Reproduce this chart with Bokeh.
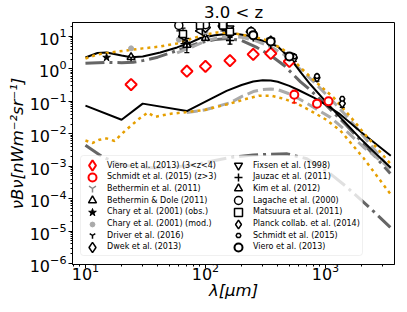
from math import pi
from bokeh.plotting import figure
from bokeh.models import Range1d, FixedTicker, Legend, LegendItem, BoxAnnotation
from bokeh.embed import file_html
from bokeh.resources import INLINE

# ---------------- data ----------------
# model A (black solid): all z and z>3
lam_a_tot = [10, 12.6, 15, 20, 24, 30, 42, 58, 75, 91, 120, 150, 180, 220, 270, 330, 400, 510, 620, 750, 1000, 1400, 2000, 2700, 3500]
v_a_tot = [2.25, 3.1, 3.2, 2.6, 2.3, 2.4, 3.2, 4.6, 6.5, 9.0, 11.0, 12.0, 12.2, 10.8, 8.4, 6.6, 4.9, 2.1, 0.8, 0.33, 0.1, 0.026, 0.0065, 0.0022, 0.0009]
lam_a_hz = [10, 20, 30, 70, 100, 150, 200, 250, 300, 350, 400, 500, 600, 800, 1000, 1300, 2000, 2700, 3500]
v_a_hz = [0.074, 0.027, 0.085, 0.05, 0.098, 0.21, 0.32, 0.41, 0.45, 0.44, 0.40, 0.30, 0.22, 0.13, 0.08, 0.042, 0.011, 0.0045, 0.0021]
# model B (light grey dashed)
lam_b_tot = [58, 80, 100, 130, 160, 200, 260, 350, 450, 620, 800, 1100, 1500, 2070, 3470]
v_b_tot = [3.1, 5.0, 7.3, 9.3, 10.0, 9.5, 7.5, 4.8, 2.8, 0.95, 0.4, 0.12, 0.035, 0.0085, 0.0008]
lam_b_hz = [70, 100, 125, 160, 200, 250, 300, 350, 400, 500, 600, 800, 1100, 1500, 2070, 3470]
v_b_hz = [0.045, 0.055, 0.07, 0.09, 0.14, 0.2, 0.23, 0.24, 0.23, 0.17, 0.12, 0.065, 0.032, 0.012, 0.0039, 0.00085]
# model C (orange dotted)
lam_c_tot = [10, 12.6, 16, 22, 30, 42, 58, 80, 100, 125, 170, 250, 330, 450, 620, 800, 1170, 1600, 2070, 3470]
v_c_tot = [2.1, 2.8, 3.2, 3.7, 4.3, 4.9, 6.1, 9.0, 11.5, 13.3, 12.5, 10.0, 7.5, 3.8, 1.1, 0.45, 0.13, 0.035, 0.011, 0.0012]
lam_c_hz = [10, 11.5, 13, 15, 17.5, 21.5, 28, 33, 38, 45, 53, 68, 100, 160, 220, 280, 350, 450, 600, 800, 1000, 1330, 2070, 3470]
v_c_hz = [0.0062, 0.0052, 0.0065, 0.0072, 0.006, 0.0126, 0.029, 0.045, 0.033, 0.038, 0.042, 0.046, 0.055, 0.085, 0.12, 0.15, 0.15, 0.12, 0.08, 0.045, 0.028, 0.0126, 0.0018, 0.00014]
# model D (dark grey dash-dot)
lam_d_tot = [10, 15, 20, 25, 30, 40, 58, 91, 120, 153, 200, 270, 350, 450, 620, 750, 1000, 1500, 2070, 3470]
v_d_tot = [1.5, 1.6, 1.55, 1.6, 1.8, 2.3, 3.7, 6.5, 8.0, 8.7, 7.5, 4.5, 2.6, 1.3, 0.4, 0.22, 0.08, 0.018, 0.005, 0.0006]
lam_d_hz = [10, 14, 20, 30, 50, 80, 120, 168, 250, 350, 480, 700, 1100, 1500, 2370, 3470]
v_d_hz = [0.0044, 0.0019, 0.0011, 0.0009, 0.0009, 0.0011, 0.0015, 0.0019, 0.0022, 0.00235, 0.0024, 0.0017, 0.00058, 0.00023, 0.00005, 0.000013]

# observations
viero34_lam = [24, 70, 100, 160, 250, 350, 500]
viero34_val = [0.33, 0.85, 1.2, 1.8, 2.8, 3.0, 1.7]
schmidt3_lam = [550, 850, 1060]
schmidt3_val = [0.16, 0.085, 0.1]
schmidt3_lo = [0.09, 0.07, 0.08]
schmidt3_hi = [0.22, 0.1, 0.12]
beth11_lam = [70, 100, 160, 250, 350, 500]
beth11_val = [6.0, 10.0, 13.5, 10.0, 6.0, 2.6]
bethdole_lam = [24, 70, 100, 160]
bethdole_val = [2.3, 5.5, 9.0, 13.0]
charyobs_lam = [15, 140, 240]
charyobs_val = [2.25, 25.0, 14.0]
charymod_lam = [24, 60, 100, 140, 240]
charymod_val = [4.3, 8.0, 14.0, 17.0, 12.0]
driver_lam = [24, 70, 100, 160, 250, 350, 500]
driver_val = [2.2, 5.8, 9.5, 12.0, 9.0, 5.3, 2.3]
dwek_lam = [100, 140, 240]
dwek_val = [19.0, 21.0, 14.0]
fixsen_lam = [160, 240, 350, 500]
fixsen_val = [18.0, 14.0, 7.5, 2.6]
jauzac_lam = [70, 160]
jauzac_val = [6.0, 7.5]
jauzac_lo = [3.2, 5.8]
jauzac_hi = [8.8, 9.4]
kim_lam = [65, 90, 140, 160]
kim_val = [10.0, 15.0, 20.0, 14.0]
lagache_lam = [60, 100, 140, 240]
lagache_val = [22.0, 23.0, 25.0, 14.0]
lagache_lo = [15.0, 16.0, 18.0, 10.0]
lagache_hi = [29.0, 30.0, 32.0, 18.0]
matsuura_lam = [65, 90, 140, 160]
matsuura_val = [12.0, 22.0, 22.0, 14.0]
matsuura_lo = [6.0, 15.0, 15.0, 10.0]
matsuura_hi = [18.0, 29.0, 29.0, 18.0]
planck_lam = [350, 550, 850, 1380]
planck_val = [7.5, 2.2, 0.54, 0.086]
planck_lo = [6.0, 1.7, 0.42, 0.065]
planck_hi = [9.0, 2.7, 0.66, 0.107]
schmidt_lam = [350, 550, 850, 1380]
schmidt_val = [7.8, 2.4, 0.6, 0.12]
viero_lam = [250, 350, 500]
viero_val = [11.0, 7.0, 2.4]

x_major = [10, 100, 1000]
y_major = [10.0 ** e for e in range(-6, 2)]

# ---------------- figure ----------------
p = figure(width=407, height=312, x_axis_type="log", y_axis_type="log",
           x_range=Range1d(7.8, 3760), y_range=Range1d(9.3e-7, 27),
           output_backend="svg", toolbar_location=None,
           min_border_left=72, min_border_right=13, min_border_top=22, min_border_bottom=48)
# a far-away range used only by legend proxy glyphs (their points fall outside the frame)
p.extra_y_ranges = {"legend_proxy": Range1d(start=1000.0, end=2000.0)}
p.xgrid.visible = False
p.ygrid.visible = False
p.outline_line_color = "black"
p.outline_line_width = 1
p.outline_line_alpha = 1
p.background_fill_color = "white"
p.border_fill_color = "white"

p.title.text = "3.0 < z"
p.title.align = "center"
p.title.text_font = "DejaVu Sans"
p.title.text_font_size = "16.5px"
p.title.text_font_style = "normal"
p.title.text_color = "black"
p.title.standoff = 1

p.xaxis.ticker = FixedTicker(ticks=x_major,
                             minor_ticks=[m * 10.0 ** e for e in range(0, 4) for m in range(2, 10)])
p.yaxis.ticker = FixedTicker(ticks=y_major,
                             minor_ticks=[m * 10.0 ** e for e in range(-7, 2) for m in range(2, 10)])
p.xaxis.axis_label = "λ[μm]"
p.yaxis.axis_label = "νBν[nWm⁻²sr⁻¹]"
for ax in (p.xaxis[0], p.yaxis[0]):
    ax.major_label_text_font = "DejaVu Sans"
    ax.major_label_text_font_size = "16px"
    ax.major_label_text_color = "black"
    ax.axis_label_text_font = "DejaVu Sans"
    ax.axis_label_text_font_size = "16.5px"
    ax.axis_label_text_font_style = "italic"
    ax.axis_label_text_color = "black"
    ax.axis_line_color = "black"
    ax.major_tick_line_color = "black"
    ax.minor_tick_line_color = "black"
    ax.major_tick_in = 0
    ax.major_tick_out = 4
    ax.minor_tick_in = 0
    ax.minor_tick_out = 2
p.xaxis.major_label_standoff = -6
p.xaxis.axis_label_standoff = -2
p.yaxis.major_label_standoff = 2
p.yaxis.axis_label_standoff = 0

ORANGE = "#e69f00"
LGREY = "#aaaaaa"
DGREY = "#666666"

# model curves
for lam, v in ((lam_d_tot, v_d_tot), (lam_d_hz, v_d_hz)):
    p.line(lam, v, line_color=DGREY, line_width=3, line_dash="19 5 3 5")
for lam, v in ((lam_b_tot, v_b_tot), (lam_b_hz, v_b_hz)):
    p.line(lam, v, line_color=LGREY, line_width=3, line_dash="11 5")
for lam, v in ((lam_a_tot, v_a_tot), (lam_a_hz, v_a_hz)):
    p.line(lam, v, line_color="black", line_width=2)
for lam, v in ((lam_c_tot, v_c_tot), (lam_c_hz, v_c_hz)):
    p.line(lam, v, line_color=ORANGE, line_width=2.5, line_dash="3 4")


def errbars(lam, lo, hi, color):
    p.segment(x0=lam, y0=lo, x1=lam, y1=hi, line_color=color, line_width=1.2)
    p.scatter(lam, lo, marker="dash", size=5, line_color=color, line_width=1.2)
    p.scatter(lam, hi, marker="dash", size=5, line_color=color, line_width=1.2)


errbars(lagache_lam, lagache_lo, lagache_hi, "black")
errbars(matsuura_lam, matsuura_lo, matsuura_hi, "black")
errbars(jauzac_lam, jauzac_lo, jauzac_hi, "black")
errbars(planck_lam, planck_lo, planck_hi, "black")
errbars(schmidt3_lam, schmidt3_lo, schmidt3_hi, "red")

r_viero34 = p.scatter(viero34_lam, viero34_val, marker="square", angle=pi / 4, size=8,
                      line_color="red", line_width=2, fill_color="white")
r_schmidt3 = p.scatter(schmidt3_lam, schmidt3_val, marker="circle", size=8,
                       line_color="red", line_width=2, fill_color="white")
r_beth11 = p.scatter(beth11_lam, beth11_val, marker="y", angle=pi / 2, size=8,
                     line_color="#888888", line_width=1.5)
r_bethdole = p.scatter(bethdole_lam, bethdole_val, marker="triangle", size=8,
                       line_color="black", line_width=1.5, fill_color="white")
r_charyobs = p.scatter(charyobs_lam, charyobs_val, marker="star", size=8,
                       line_color="black", fill_color="black")
r_charymod = p.scatter(charymod_lam, charymod_val, marker="circle", size=5,
                       line_color="#aaaaaa", fill_color="#aaaaaa")
r_driver = p.scatter(driver_lam, driver_val, marker="y", size=7,
                     line_color="black", line_width=1.5)
r_dwek = p.scatter(dwek_lam, dwek_val, marker="square", angle=pi / 4, size=7,
                   line_color="black", line_width=1.5, fill_color="white")
r_fixsen = p.scatter(fixsen_lam, fixsen_val, marker="inverted_triangle", size=8,
                     line_color="black", line_width=1.5, fill_color="white")
r_jauzac = p.scatter(jauzac_lam, jauzac_val, marker="cross", size=8,
                     line_color="black", line_width=1.5)
r_kim = p.scatter(kim_lam, kim_val, marker="triangle", angle=pi / 2, size=8,
                  line_color="black", line_width=1.5, fill_color="white")
r_lagache = p.scatter(lagache_lam, lagache_val, marker="circle", size=8,
                      line_color="black", line_width=1.5, fill_color="white")
r_matsuura = p.scatter(matsuura_lam, matsuura_val, marker="square", size=7,
                       line_color="black", line_width=1.5, fill_color="white")
r_planck = p.scatter(planck_lam, planck_val, marker="diamond", size=9,
                     line_color="black", line_width=1.5, fill_color="white")
r_schmidt = p.scatter(schmidt_lam, schmidt_val, marker="hex", size=5,
                      line_color="black", line_width=1.5, fill_color="white")
r_viero = p.scatter(viero_lam, viero_val, marker="circle", size=8,
                    line_color="black", line_width=2, fill_color="white")

# legend proxies for the diamond entries (legend glyphs ignore the marker angle);
# mapped on a far-away range, so nothing shows inside the frame
lg_viero34 = p.scatter(viero34_lam, viero34_val, y_range_name="legend_proxy",
                       marker="diamond", size=10, line_color="red", line_width=2,
                       fill_color="white")
lg_dwek = p.scatter(dwek_lam, dwek_val, y_range_name="legend_proxy",
                    marker="diamond", size=10, line_color="black", line_width=1.5,
                    fill_color="white")

# legend frame
box = BoxAnnotation(left=8, right=290, bottom=9, top=109,
                    left_units="screen", right_units="screen",
                    bottom_units="screen", top_units="screen",
                    fill_color="white", fill_alpha=0.8,
                    line_color="#cccccc", line_width=1, border_radius=3)
p.add_layout(box)

# (label, renderer, glyph box size) -- one legend per entry for exact row placement
col1 = [("Viero et al. (2013) (3<z<4)", lg_viero34, 26), ("Schmidt et al. (2015) (z>3)", r_schmidt3, 20),
        ("Bethermin et al. (2011)", r_beth11, 20), ("Bethermin & Dole (2011)", r_bethdole, 20),
        ("Chary et al. (2001) (obs.)", r_charyobs, 20), ("Chary et al. (2001) (mod.)", r_charymod, 12),
        ("Driver et al. (2016)", r_driver, 16), ("Dwek et al. (2013)", lg_dwek, 26)]
col2 = [("Fixsen et al. (1998)", r_fixsen, 20), ("Jauzac et al. (2011)", r_jauzac, 20),
        ("Kim et al. (2012)", r_kim, 20), ("Lagache et al. (2000)", r_lagache, 20),
        ("Matsuura et al. (2011)", r_matsuura, 20), ("Planck collab. et al. (2014)", r_planck, 22),
        ("Schmidt et al. (2015)", r_schmidt, 12), ("Viero et al. (2013)", r_viero, 20)]
for items, mx in ((col1, 20), (col2, 166)):
    for i, (txt, r, g) in enumerate(items):
        yc = 99 - 11.71 * i   # row centre above the frame bottom
        leg = Legend(items=[LegendItem(label=txt, renderers=[r])],
                     location=(mx - g / 2, yc - g / 2), orientation="vertical",
                     glyph_width=g, glyph_height=g, label_height=g, spacing=0,
                     padding=0, margin=0, label_standoff=int(round(15 - g / 2)),
                     background_fill_alpha=0, border_line_color=None,
                     label_text_font="DejaVu Sans", label_text_font_size="8px",
                     label_text_color="black", label_text_baseline="middle")
        p.add_layout(leg, "center")

open("out.html", "w").write(file_html(p, INLINE))
